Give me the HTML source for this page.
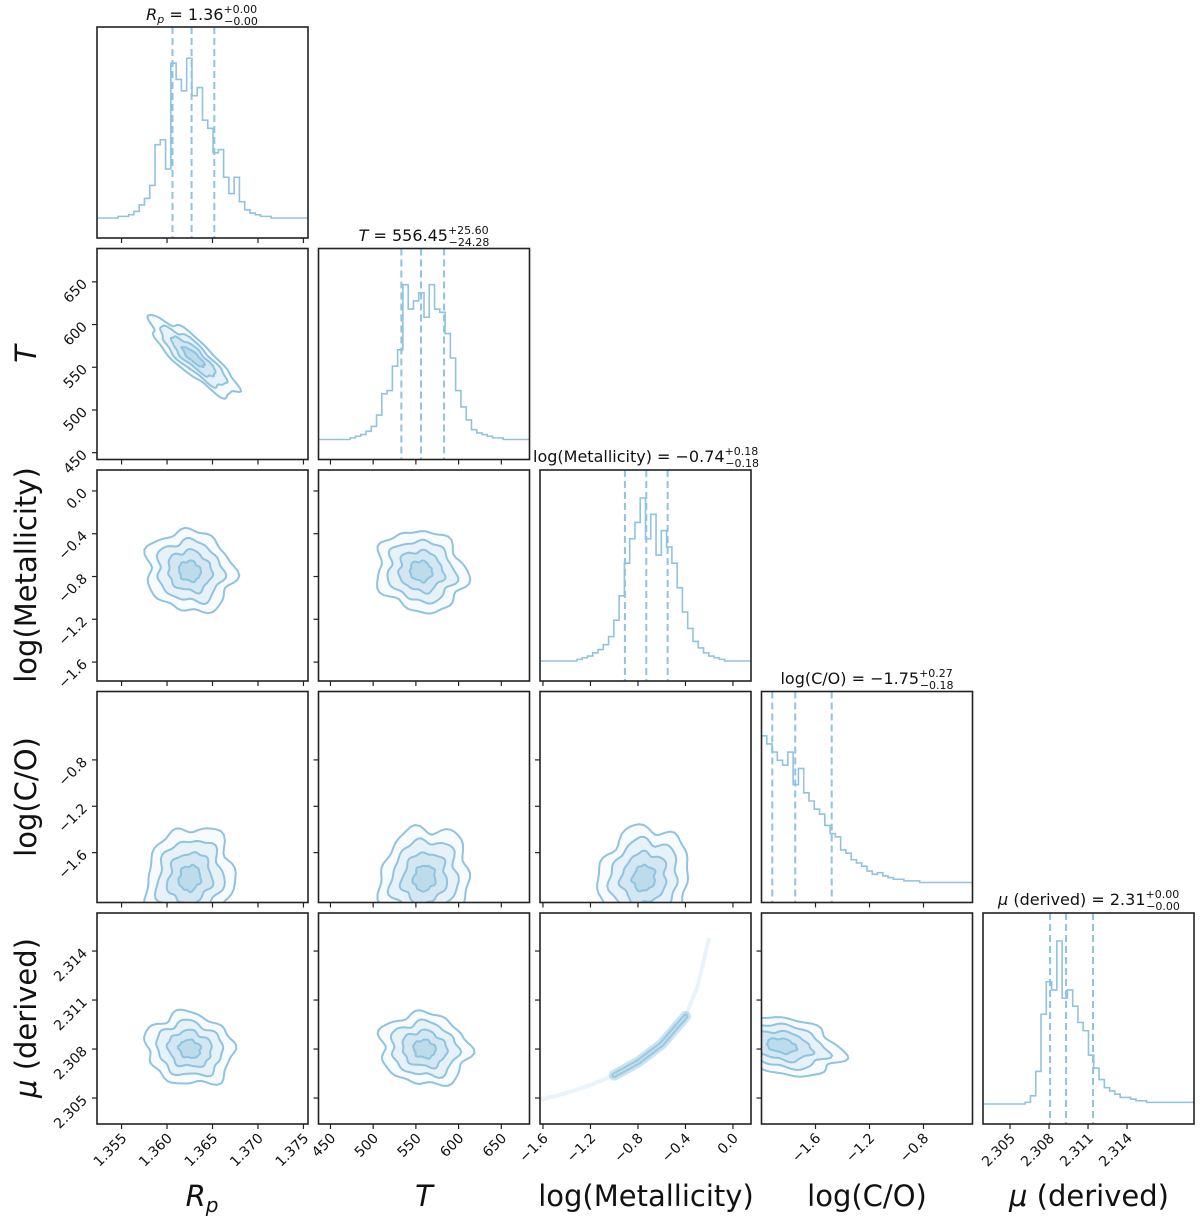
<!DOCTYPE html>
<html><head><meta charset="utf-8"><style>
html,body{margin:0;padding:0;background:#fff;}
svg{display:block;font-family:"DejaVu Sans","Liberation Sans",sans-serif;}
</style></head><body>
<svg id="c" width="1200" height="1225" viewBox="0 0 1200 1225" xmlns="http://www.w3.org/2000/svg"></svg>
<script>
// ---- data ----
const paramNames = ["Rp","T","logMet","logCO","mu"];
const colRanges = [[1.3523,1.3755],[436,683],[-1.625,0.152],[-2.0,-0.437],[2.30292,2.31915]];
const rowRanges = [null,[689,442],[0.196,-1.777],[-0.21,-2.03],[2.31633,2.30341]];
const xTicks = [[1.355,1.360,1.365,1.370,1.375],[450,500,550,600,650],[-1.6,-1.2,-0.8,-0.4,0.0],[-1.6,-1.2,-0.8],[2.305,2.308,2.311,2.314]];
const xTickLabels = [["1.355","1.360","1.365","1.370","1.375"],["450","500","550","600","650"],["\u22121.6","\u22121.2","\u22120.8","\u22120.4","0.0"],["\u22121.6","\u22121.2","\u22120.8"],["2.305","2.308","2.311","2.314"]];
const yTicks = [null,[450,500,550,600,650],[-1.6,-1.2,-0.8,-0.4,0.0],[-1.6,-1.2,-0.8],[2.305,2.308,2.311,2.314]];
const yTickLabels = [null,["450","500","550","600","650"],["\u22121.6","\u22121.2","\u22120.8","\u22120.4","0.0"],["\u22121.6","\u22121.2","\u22120.8"],["2.305","2.308","2.311","2.314"]];
const histRp = [0,0,0,0,0.01,0.01,0.02,0.04,0.08,0.12,0.2,0.45,0.48,0.3,0.95,0.85,0.78,0.98,0.75,0.8,0.6,0.55,0.4,0.42,0.25,0.15,0.25,0.1,0.05,0.03,0.02,0.01,0.01,0,0,0,0,0,0,0];
const histT = [0,0,0,0,0,0,0.01,0.02,0.03,0.05,0.08,0.15,0.28,0.3,0.45,0.55,0.95,0.8,0.85,0.9,0.75,0.95,0.8,0.78,0.65,0.5,0.3,0.2,0.12,0.06,0.04,0.03,0.02,0.01,0.01,0,0,0,0,0];
const histMet = [0,0,0,0,0,0,0,0.01,0.02,0.03,0.05,0.07,0.1,0.15,0.25,0.4,0.6,0.75,0.85,1.0,0.75,0.9,0.65,0.8,0.7,0.6,0.45,0.3,0.2,0.12,0.08,0.05,0.03,0.02,0.01,0,0,0,0,0];
const histCO = [0.9,0.85,0.8,0.75,0.72,0.8,0.6,0.7,0.55,0.5,0.45,0.42,0.35,0.3,0.28,0.2,0.18,0.14,0.12,0.1,0.07,0.05,0.06,0.04,0.03,0.02,0.02,0.01,0.01,0.01,0,0,0,0,0,0,0,0,0,0];
const histMu = [0,0,0,0,0,0,0,0,0.01,0.05,0.2,0.55,0.75,0.7,1.0,0.65,0.7,0.6,0.5,0.45,0.3,0.22,0.15,0.1,0.08,0.06,0.04,0.04,0.03,0.02,0.02,0.01,0.01,0.01,0.01,0.01,0.01,0.01,0.01,0.01];
const hists = [histRp,histT,histMet,histCO,histMu];
const quantRp = [1.3606,1.3627,1.3652];
const quantT = [533,556,583];
const quantMet = [-0.91,-0.73,-0.55];
const quantCO = [-1.92,-1.75,-1.48];
const quantMu = [2.30808,2.30931,2.31138];
const quants = [quantRp,quantT,quantMet,quantCO,quantMu];
// 2D blobs
const blobRows = [1,2,2,3,3,3,4,4,4];
const blobCols = [0,0,1,0,1,2,0,1,3];
const blobCx = [1.3629,1.3625,556,1.3625,560,-0.75,1.3625,560,-1.85];
const blobCy = [562,-0.75,-0.75,-1.82,-1.82,-1.82,2.3080,2.3080,2.3082];
const blobSx = [0.0024,0.0024,26,0.0024,26,0.19,0.0024,26,0.22];
const blobSy = [23,0.19,0.19,0.22,0.22,0.22,0.0011,0.0011,0.0009];
const blobRho = [-0.85,-0.1,-0.1,0.1,0.1,0.1,-0.1,-0.1,-0.3];
const curveMet = [-1.62,-1.4,-1.2,-1.0,-0.8,-0.6,-0.4,-0.3,-0.2];
const curveMu = [2.3049,2.3053,2.3058,2.3064,2.3072,2.3083,2.3100,2.3118,2.3148];
// ---- layout ----
const L=[97,318.5,540,761.5,983], T0=[27,248.5,470,691.5,913], S=211;
const COL="#8fc3df";
const svg=document.getElementById('c');
const NS="http://www.w3.org/2000/svg";
function el(tag,attrs,parent){const e=document.createElementNS(NS,tag);for(const k in attrs)e.setAttribute(k,attrs[k]);(parent||svg).appendChild(e);return e;}
function xs(c,v){const r=colRanges[c];return L[c]+(v-r[0])/(r[1]-r[0])*S;}
function ys(r,v){const g=rowRanges[r];return T0[r]+(g[0]-v)/(g[0]-g[1])*S;}
const defs=el('defs',{});
for(let r=0;r<5;r++)for(let c=0;c<=r;c++){const cp=el('clipPath',{id:'cp'+r+'_'+c},defs);el('rect',{x:L[c],y:T0[r],width:S,height:S},cp);}
// diagonal hists
for(let i=0;i<5;i++){
  const g=el('g',{'clip-path':'url(#cp'+i+'_'+i+')'});
  
  
  const h=hists[i], n=h.length, r=colRanges[i], bw=(r[1]-r[0])/n;
  const base=T0[i]+S-20, top=T0[i]+28, hy=v=>base-v*(base-top);
  let d='M'+L[i]+','+hy(h[0]);
  for(let k=0;k<n;k++){const x0=xs(i,r[0]+k*bw),x1=xs(i,r[0]+(k+1)*bw);d+=' L'+x0+','+hy(h[k])+' L'+x1+','+hy(h[k]);}
  const p=el('path',{d:d,fill:'none',stroke:COL,'stroke-width':1.6},g);
  
  
  quants[i].forEach((q,k)=>{const x=xs(i,q);const ln=el('line',{x1:x,x2:x,y1:T0[i],y2:T0[i]+S,stroke:COL,'stroke-width':2,'stroke-dasharray':'7,4'},g);
    
    });
}
// 2D blobs
const levels=[2.0,1.5,1.0,0.5], fills=[0.12,0.25,0.38,0.55];
for(let b=0;b<blobRows.length;b++){
  const r=blobRows[b],c=blobCols[b];
  const g=el('g',{'clip-path':'url(#cp'+r+'_'+c+')'});
  
  
  levels.forEach((lv,k)=>{
    let d='';const rho=blobRho[b],q=Math.sqrt(1-rho*rho);
    for(let t=0;t<=64;t++){const a=t/64*2*Math.PI;
      const wob=1+0.07*Math.sin(5*a+b)+0.05*Math.cos(7*a+k)+0.03*Math.sin(11*a+2*b);
      const vx=blobCx[b]+lv*wob*blobSx[b]*Math.cos(a);
      const vy=blobCy[b]+lv*wob*blobSy[b]*(rho*Math.cos(a)+q*Math.sin(a));
      d+=(t?' L':'M')+xs(c,vx).toFixed(1)+','+ys(r,vy).toFixed(1);}
    const p=el('path',{d:d+'Z',fill:COL,'fill-opacity':fills[k]*0.6,stroke:COL,'stroke-width':2},g);
    
    
  });
}
// banana curve (mu vs metallicity)
{
  const g=el('g',{'clip-path':'url(#cp4_2)'});
  
  
  let d='';curveMet.forEach((m,k)=>{d+=(k?' L':'M')+xs(2,m).toFixed(1)+','+ys(4,curveMu[k]).toFixed(1);});
  const f=el('path',{d:d,fill:'none',stroke:COL,'stroke-opacity':0.2,'stroke-width':4},g);
  
  
  let d2='';curveMet.forEach((m,k)=>{if(m>=-1.1&&m<=-0.4)d2+=(d2?' L':'M')+xs(2,m).toFixed(1)+','+ys(4,curveMu[k]).toFixed(1);});
  [11,6].forEach((w,k)=>{const p=el('path',{d:d2,fill:'none',stroke:COL,'stroke-opacity':0.45+0.3*k,'stroke-width':w,'stroke-linecap':'round'},g);
    
    });
  const o=el('path',{d:d2,fill:'none',stroke:'#fff','stroke-opacity':0.5,'stroke-width':1.2},g);
  
  
}
// frames, ticks, labels
for(let r=0;r<5;r++)for(let c=0;c<=r;c++){
  const fr=el('rect',{x:L[c],y:T0[r],width:S,height:S,fill:'none',stroke:'#222','stroke-width':1.6});
  
  
  xTicks[c].forEach((v,k)=>{const x=xs(c,v);el('line',{x1:x,x2:x,y1:T0[r]+S,y2:T0[r]+S+5,stroke:'#222','stroke-width':1.2});
    if(r===4){const t=el('text',{x:x+6,y:T0[r]+S+15,'text-anchor':'end','font-size':14,transform:'rotate(-45 '+(x+6)+' '+(T0[r]+S+15)+')',fill:'#111'});t.textContent=xTickLabels[c][k];
      
      }});
  if(c<r){yTicks[r].forEach((v,k)=>{const y=ys(r,v);el('line',{x1:L[c]-5,x2:L[c],y1:y,y2:y,stroke:'#222','stroke-width':1.2});
    if(c===0){const t=el('text',{x:L[c]-9,y:y+3,'text-anchor':'end','font-size':14,transform:'rotate(-45 '+(L[c]-9)+' '+(y+3)+')',fill:'#111'});t.textContent=yTickLabels[r][k];
      
      }});}
}
</script>
<svg style="position:absolute;left:0;top:0" width="1200" height="1225" font-family="DejaVu Sans, Liberation Sans, sans-serif">
<g font-size="16" fill="#111">
<text x="202" y="20" text-anchor="middle"><tspan font-style="italic">R</tspan><tspan font-style="italic" font-size="11" dy="3">p</tspan><tspan dy="-3"> = 1.36</tspan><tspan font-size="11" dy="-7">+0.00</tspan><tspan font-size="11" dx="-33" dy="12">−0.00</tspan></text>
<text x="424" y="241" text-anchor="middle"><tspan font-style="italic">T</tspan><tspan> = 556.45</tspan><tspan font-size="11" dy="-7">+25.60</tspan><tspan font-size="11" dx="-40" dy="12">−24.28</tspan></text>
<text x="646" y="462" text-anchor="middle">log(Metallicity) = −0.74<tspan font-size="11" dy="-7">+0.18</tspan><tspan font-size="11" dx="-33" dy="12">−0.18</tspan></text>
<text x="867" y="684" text-anchor="middle">log(C/O) = −1.75<tspan font-size="11" dy="-7">+0.27</tspan><tspan font-size="11" dx="-33" dy="12">−0.18</tspan></text>
<text x="1089" y="905" text-anchor="middle"><tspan font-style="italic">μ</tspan> (derived) = 2.31<tspan font-size="11" dy="-7">+0.00</tspan><tspan font-size="11" dx="-33" dy="12">−0.00</tspan></text>
</g>
<g font-size="29" fill="#111" text-anchor="middle">
<text x="202" y="1206"><tspan font-style="italic">R</tspan><tspan font-style="italic" font-size="20" dy="6">p</tspan></text>
<text x="424" y="1206" font-style="italic">T</text>
<text x="646" y="1206">log(Metallicity)</text>
<text x="867" y="1206">log(C/O)</text>
<text x="1089" y="1206"><tspan font-style="italic">μ</tspan> (derived)</text>
</g>
<g font-size="29" fill="#111" text-anchor="middle">
<text x="36" y="354" font-style="italic" transform="rotate(-90 36 354)">T</text>
<text x="36" y="575" transform="rotate(-90 36 575)">log(Metallicity)</text>
<text x="36" y="797" transform="rotate(-90 36 797)">log(C/O)</text>
<text x="36" y="1018" transform="rotate(-90 36 1018)"><tspan font-style="italic">μ</tspan> (derived)</text>
</g>
</svg>
</body></html>
